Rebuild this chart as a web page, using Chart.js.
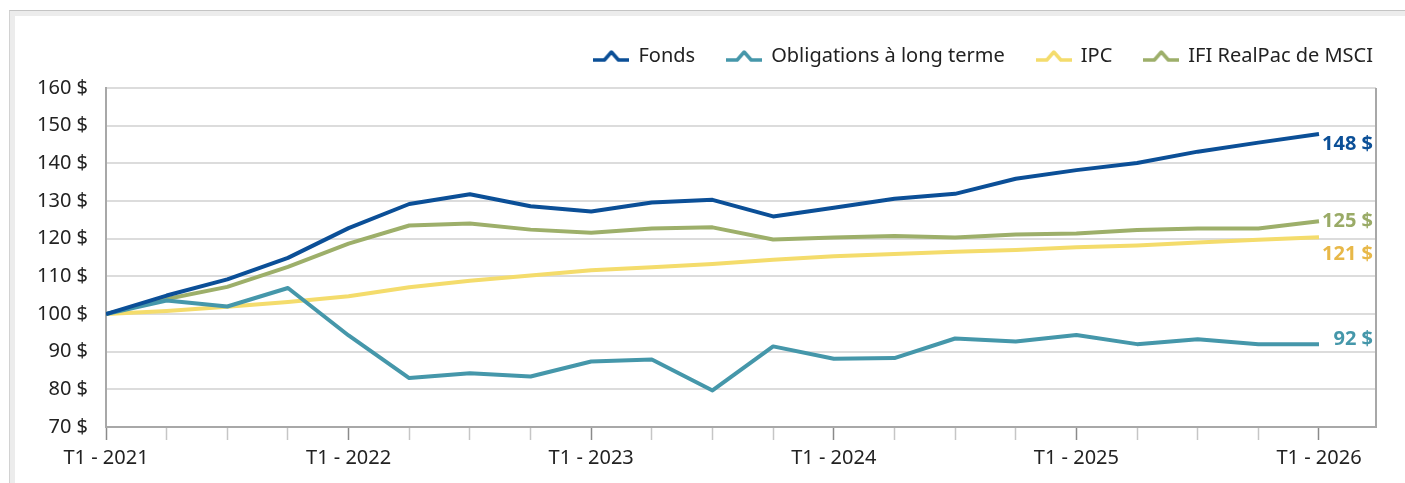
<!DOCTYPE html>
<html lang="fr">
<head>
<meta charset="utf-8">
<script src="https://cdn.jsdelivr.net/npm/chart.js@4.4.1/dist/chart.umd.min.js"></script>
<style>
  html, body { margin:0; padding:0; background:#fff; }
  body { width:1405px; height:483px; position:relative; overflow:hidden; }
  .cadre { position:absolute; left:9px; top:10px; right:-20px; bottom:-20px;
           border-top:1px solid #c4c4c4; border-left:1px solid #d2d2d2; background:#ececec; }
  .cadre .int { position:absolute; left:5px; top:5px; right:0; bottom:0; background:#fff; }
  #graphique { position:absolute; left:0; top:0; }
</style>
</head>
<body>
<div class="cadre"><div class="int"></div></div>
<canvas id="graphique" width="1405" height="483"></canvas>
<script>
// Trimestres (T1 - 2021 à T1 - 2026)
const trimestres = [
  'T1 - 2021','T2 - 2021','T3 - 2021','T4 - 2021',
  'T1 - 2022','T2 - 2022','T3 - 2022','T4 - 2022',
  'T1 - 2023','T2 - 2023','T3 - 2023','T4 - 2023',
  'T1 - 2024','T2 - 2024','T3 - 2024','T4 - 2024',
  'T1 - 2025','T2 - 2025','T3 - 2025','T4 - 2025',
  'T1 - 2026'
];

// Valeur de 100 $ investis
const fonds       = [100,104.9,109.2,114.9,122.8,129.2,131.8,128.6,127.2,129.6,130.3,125.9,128.2,130.6,131.9,135.9,138.2,140.1,143.1,145.5,147.8];
const obligations = [100,103.6,102.0,106.9,94.3,83.0,84.3,83.4,87.4,87.9,79.7,91.4,88.1,88.3,93.5,92.7,94.4,92.0,93.3,92.0,92.0];
const ipc         = [100,100.8,101.9,103.2,104.7,107.1,108.8,110.2,111.6,112.4,113.3,114.4,115.3,115.9,116.5,117.0,117.7,118.2,119.0,119.7,120.4];
const realpac     = [100,104.0,107.2,112.5,118.7,123.5,124.0,122.4,121.6,122.7,123.0,119.8,120.3,120.7,120.3,121.1,121.4,122.3,122.7,122.7,124.6];

const noms = ['Fonds','Obligations à long terme','IPC','IFI RealPac de MSCI'];
const etiquettesFin = ['148 $','92 $','121 $','125 $'];

const couleurs = ['#0b4f97','#4597aa','#f4dc6c','#9daf6a'];
const couleursEtiq = ['#0b4f97','#4597aa','#e8b848','#9aab67'];
const decalEtiq = [10, -5, 17, 0];

const POLICE = '"Noto Sans", "Open Sans", sans-serif';

// icône de légende : trait avec un chevron au milieu
function icone(coul){
  const c = document.createElement('canvas');
  c.width = 36; c.height = 16;
  const g = c.getContext('2d');
  g.strokeStyle = coul; g.lineWidth = 3.5; g.lineJoin = 'round'; g.lineCap = 'butt';
  g.beginPath();
  g.moveTo(0,12); g.lineTo(11,12); g.lineTo(18,4); g.lineTo(25,12); g.lineTo(36,12);
  g.stroke();
  return c;
}

const serie = arr => arr.map((v,i) => ({x:i, y:v}));
const series = [fonds, obligations, ipc, realpac];

// espace sous la légende + légende calée à droite
const legendeEspace = {
  id:'legendeEspace',
  beforeUpdate(chart){
    const lg = chart.legend;
    if (lg && !lg._ajuste) {
      const fit = lg.fit;
      lg.fit = function(){ fit.call(this); this.height += 12; };
      lg._ajuste = true;
    }
  },
  afterLayout(chart){
    if (chart.legend) chart.legend.right = chart.width;
  }
};

const bordureDroite = {
  id:'bordureDroite',
  afterDraw(chart){
    const {ctx, chartArea:a} = chart;
    ctx.save();
    ctx.strokeStyle = '#a8a8a8'; ctx.lineWidth = 2;
    ctx.beginPath(); ctx.moveTo(a.right, a.top); ctx.lineTo(a.right, a.bottom); ctx.stroke();
    ctx.restore();
  }
};

const etiquettes = {
  id:'etiquettes',
  afterDatasetsDraw(chart){
    const {ctx, chartArea:a} = chart;
    ctx.save();
    ctx.font = 'bold 20px ' + POLICE;
    ctx.textAlign = 'right'; ctx.textBaseline = 'middle';
    chart.data.datasets.forEach((ds,i) => {
      const pts = chart.getDatasetMeta(i).data;
      const p = pts[pts.length-1];
      ctx.fillStyle = couleursEtiq[i];
      ctx.fillText(etiquettesFin[i], a.right - 3, p.y + decalEtiq[i]);
    });
    ctx.restore();
  }
};

new Chart(document.getElementById('graphique'), {
  type:'line',
  data:{
    datasets: series.map((s,i) => ({
      label: noms[i],
      data: serie(s),
      borderColor: couleurs[i],
      backgroundColor: couleurs[i],
      borderWidth: 4,
      pointRadius: 0,
      tension: 0,
      borderJoinStyle: 'round',
      pointStyle: icone(couleurs[i])
    }))
  },
  options:{
    responsive:false,
    animation:false,
    layout:{ padding:{ top:14, right:29, left:0, bottom:7 } },
    plugins:{
      tooltip:{ enabled:false },
      legend:{
        position:'top', align:'end',
        labels:{
          usePointStyle:true, pointStyleWidth:34, padding:32,
          color:'#222', font:{ family:POLICE, size:20 }
        }
      }
    },
    scales:{
      x:{
        type:'linear', min:0, max:20.94,
        grid:{ drawOnChartArea:false, drawTicks:true, tickLength:13, tickWidth:1.5,
               tickColor: c => (c.tick && c.tick.value % 4 === 0) ? '#8a8a8a' : '#c6c6c6' },
        border:{ color:'#a8a8a8', width:2 },
        ticks:{ stepSize:1, includeBounds:false, autoSkip:false, maxRotation:0, padding:6,
                color:'#222', font:{ family:POLICE, size:20 },
                callback: v => (Number.isInteger(v) && v % 4 === 0) ? trimestres[v] : '' }
      },
      y:{
        min:70, max:160,
        afterFit: s => { s.width = 106; },
        grid:{ color:'#dcdcdc', lineWidth:2, drawTicks:false },
        border:{ color:'#a8a8a8', width:2 },
        ticks:{ stepSize:10, padding:18, color:'#222', font:{ family:POLICE, size:20 },
                callback: v => v + ' $' }
      }
    }
  },
  plugins:[legendeEspace, bordureDroite, etiquettes]
});
</script>
</body>
</html>
